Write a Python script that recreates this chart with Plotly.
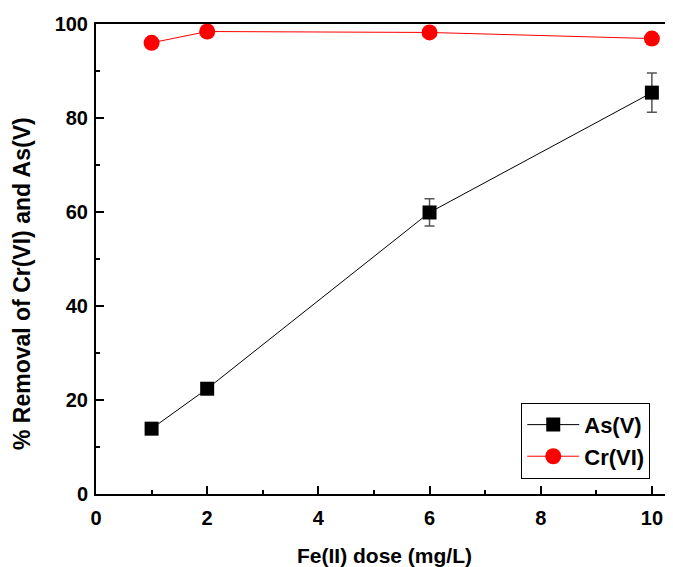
import plotly.graph_objects as go

dose = [1, 2, 6, 10]
as_removal = [13.9, 22.4, 59.9, 85.4]
as_err = [0.8, 0.8, 2.9, 4.2]
cr_removal = [96.0, 98.4, 98.2, 96.9]

FONT = "Liberation Sans"

fig = go.Figure()
fig.add_trace(go.Scatter(
    x=dose, y=as_removal, name="As(V)", mode="lines+markers",
    line=dict(color="black", width=1),
    marker=dict(symbol="square", size=14, color="black"),
    error_y=dict(type="data", array=as_err, visible=True, color="#555555", thickness=1.5, width=5),
))
fig.add_trace(go.Scatter(
    x=dose, y=cr_removal, name="Cr(VI)", mode="lines+markers",
    line=dict(color="red", width=1),
    marker=dict(symbol="circle", size=16, color="red"),
))

axis_common = dict(
    showline=True, linecolor="black", linewidth=2,
    ticks="inside", tickcolor="black", tickwidth=1.5, ticklen=8,
    showgrid=False, zeroline=False,
    tickfont=dict(family=FONT, size=20, color="black", weight="bold"),
)

fig.update_layout(
    width=665, height=559,
    margin=dict(l=88, r=0, t=16, b=73),
    plot_bgcolor="white", paper_bgcolor="white",
    xaxis=dict(range=[0, 10.38], tickvals=[0, 2, 4, 6, 8, 10], mirror=True,
               ticklabelstandoff=5,
               minor=dict(dtick=1, tick0=0, ticks="inside", ticklen=4, tickcolor="black", tickwidth=1.5),
               title=dict(text="Fe(II) dose (mg/L)", font=dict(family=FONT, size=21, color="black", weight="bold"), standoff=20),
               **axis_common),
    yaxis=dict(range=[0, 100], tickvals=[0, 20, 40, 60, 80, 100], mirror=False,
               ticklabelstandoff=2,
               minor=dict(dtick=10, tick0=0, ticks="inside", ticklen=4, tickcolor="black", tickwidth=1.5),
               **axis_common),
    legend=dict(x=0.737, y=0.194, xanchor="left", yanchor="top",
                bordercolor="black", borderwidth=1, bgcolor="white",
                font=dict(family=FONT, size=22, color="black", weight="bold"),
                tracegroupgap=0, itemwidth=52),
    showlegend=True,
    annotations=[dict(
        text="% Removal of Cr(VI) and As(V)", textangle=-90,
        xref="paper", yref="paper", x=-0.128, y=0.447,
        xanchor="center", yanchor="middle", showarrow=False,
        font=dict(family=FONT, size=23, color="black", weight="bold"),
    )],
)

fig.write_html("out.html")
